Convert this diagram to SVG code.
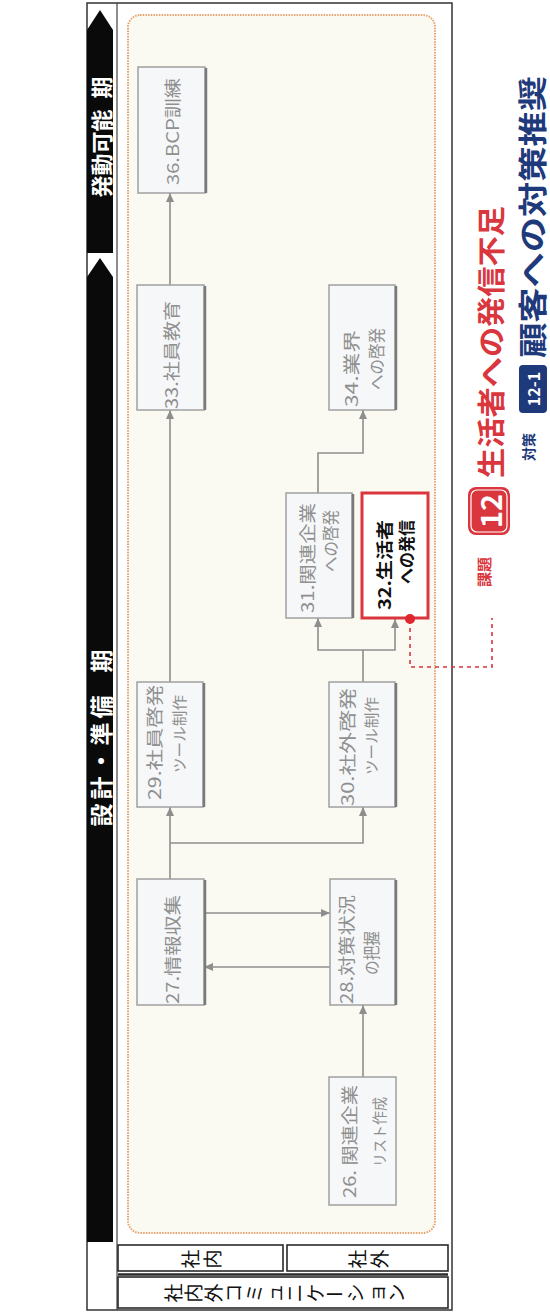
<svg xmlns="http://www.w3.org/2000/svg" width="550" height="1313" viewBox="0 0 550 1313">
<defs>
<marker id="arr" markerWidth="9" markerHeight="8" refX="9" refY="4" orient="auto" markerUnits="userSpaceOnUse"><path d="M0,0 L9,4 L0,8 z" fill="#8e8e8e"/></marker>
<style>
.f{font-family:"Noto Sans CJK JP","Noto Sans",sans-serif}
.box{fill:#f6f7f9;stroke:#a0a0a0;stroke-width:1.5}
.sh{stroke:#7a7a7a;stroke-width:2.5}
.lbl{font-family:"Noto Sans CJK JP","Noto Sans",sans-serif;fill:#8f8f8f;font-size:17px;dominant-baseline:central}
.con{fill:none;stroke:#8e8e8e;stroke-width:1.6}
.hdr{font-family:"Noto Sans CJK JP","Noto Sans",sans-serif;fill:#fff;font-weight:bold;dominant-baseline:central;text-anchor:middle}
.tb{fill:none;stroke:#2a2a2a;stroke-width:1.6}
.g{font-family:"Noto Sans CJK JP","Noto Sans",sans-serif;font-size:19px;fill:#111;text-anchor:middle;dominant-baseline:central}
</style>
</defs>
<rect width="550" height="1313" fill="#fff"/>
<g id="frame">
<rect x="87" y="3" width="365" height="1307" fill="#fff" stroke="#333" stroke-width="1.5"/>
<line x1="117" y1="3" x2="117" y2="1310" stroke="#444" stroke-width="1.2"/>
<rect x="128" y="15" width="307" height="1218" rx="12" fill="#fbfaf2" stroke="#e3a470" stroke-width="2" stroke-dasharray="1.5 1.2"/>
<polygon points="87,30 100,10 113,30 113,253 87,253" fill="#0a0a0a"/>
<polygon points="87,277 100,258 113,277 113,1242 87,1242" fill="#0a0a0a"/>
<text class="hdr" font-size="22" transform="translate(100,137) rotate(-90)">発動可能 <tspan dx="6">期</tspan></text>
<text class="hdr" font-size="23" letter-spacing="4" transform="translate(100,736) rotate(-90)">設計・準備 <tspan dx="10">期</tspan></text>
</g>
<g id="table">
<rect class="tb" x="118" y="1245" width="165" height="26"/>
<rect class="tb" x="287" y="1245" width="161" height="26"/>
<line x1="118" y1="1274.5" x2="448" y2="1274.5" stroke="#2a2a2a" stroke-width="2.5"/>
<rect class="tb" x="118" y="1277" width="330" height="31"/>
<text class="g" transform="translate(189,1259) rotate(-90)">社</text>
<text class="g" transform="translate(211,1259) rotate(-90)">内</text>
<text class="g" transform="translate(356,1259) rotate(-90)">社</text>
<text class="g" transform="translate(378,1259) rotate(-90)">外</text>
<text class="g" transform="translate(172,1293) rotate(-90)">社</text>
<text class="g" transform="translate(192.3,1293) rotate(-90)">内</text>
<text class="g" transform="translate(212.6,1293) rotate(-90)">外</text>
<text class="g" transform="translate(232.9,1293) rotate(-90)">コ</text>
<text class="g" transform="translate(253.2,1293) rotate(-90)">ミ</text>
<text class="g" transform="translate(273.5,1293) rotate(-90)">ュ</text>
<text class="g" transform="translate(293.8,1293) rotate(-90)">ニ</text>
<text class="g" transform="translate(314.1,1293) rotate(-90)">ケ</text>
<text class="g" x="334.4" y="1293">ー</text>
<text class="g" transform="translate(354.7,1293) rotate(-90)">シ</text>
<text class="g" transform="translate(375,1293) rotate(-90)">ョ</text>
<text class="g" transform="translate(395.3,1293) rotate(-90)">ン</text>
</g>
<g id="connectors">
<path class="con" d="M363,1077 V1005" marker-end="url(#arr)"/>
<path class="con" d="M204,913 H330" marker-end="url(#arr)"/>
<path class="con" d="M330,967 H204" marker-end="url(#arr)"/>
<path class="con" d="M170,879 V807" marker-end="url(#arr)"/>
<path class="con" d="M170,843 H363 V807" marker-end="url(#arr)"/>
<path class="con" d="M170,682 V410" marker-end="url(#arr)"/>
<path class="con" d="M363,682 V650 H318 V618" marker-end="url(#arr)"/>
<path class="con" d="M363,650 H395 V619" marker-end="url(#arr)"/>
<path class="con" d="M318,493 V453 H363 V410" marker-end="url(#arr)"/>
<path class="con" d="M170,285 V193" marker-end="url(#arr)"/>
<path d="M410,620 V667 H492 V618" fill="none" stroke="#d9363e" stroke-width="1.6" stroke-dasharray="4 4"/>
</g>
<g id="n36">
<rect class="box" x="138" y="67" width="67" height="126"/><line class="sh" x1="206" y1="68" x2="206" y2="193"/>
<text class="lbl" transform="translate(171,185) rotate(-90)" textLength="107" lengthAdjust="spacingAndGlyphs">36.BCP訓練</text>
</g>
<g id="n33">
<rect class="box" x="137" y="285" width="67" height="125"/><line class="sh" x1="205" y1="286" x2="205" y2="410"/>
<text class="lbl" transform="translate(170,409) rotate(-90)" textLength="108" lengthAdjust="spacingAndGlyphs">33.社員教育</text>
</g>
<g id="n34">
<rect class="box" x="329" y="285" width="66" height="125"/><line class="sh" x1="396" y1="286" x2="396" y2="410"/>
<text class="lbl" transform="translate(350,407) rotate(-90)" textLength="77" lengthAdjust="spacingAndGlyphs">34.業界</text>
<text class="lbl" transform="translate(375,390) rotate(-90)" textLength="62" lengthAdjust="spacingAndGlyphs">への啓発</text>
</g>
<g id="n31">
<rect class="box" x="286" y="493" width="66" height="125"/><line class="sh" x1="353" y1="494" x2="353" y2="618"/>
<text class="lbl" transform="translate(306,613) rotate(-90)" textLength="110" lengthAdjust="spacingAndGlyphs">31.関連企業</text>
<text class="lbl" transform="translate(329,572) rotate(-90)" textLength="62" lengthAdjust="spacingAndGlyphs">への啓発</text>
</g>
<g id="n32">
<rect x="362" y="493" width="66" height="125" fill="#fff" stroke="#d9363e" stroke-width="3"/>
<text class="lbl" style="fill:#111;font-weight:bold" transform="translate(383,610) rotate(-90)" textLength="90" lengthAdjust="spacingAndGlyphs">32.生活者</text>
<text class="lbl" style="fill:#111;font-weight:bold" transform="translate(405,584) rotate(-90)" textLength="64" lengthAdjust="spacingAndGlyphs">への発信</text>
<circle cx="410" cy="619" r="5" fill="#e0262e"/>
</g>
<g id="n29">
<rect class="box" x="137" y="682" width="66" height="125"/><line class="sh" x1="204" y1="683" x2="204" y2="807"/>
<text class="lbl" transform="translate(153,800) rotate(-90)" textLength="115" lengthAdjust="spacingAndGlyphs">29.社員啓発</text>
<text class="lbl" style="font-size:15px" transform="translate(178,773) rotate(-90)" textLength="78" lengthAdjust="spacingAndGlyphs">ツール制作</text>
</g>
<g id="n30">
<rect class="box" x="329" y="682" width="66" height="125"/><line class="sh" x1="396" y1="683" x2="396" y2="807"/>
<text class="lbl" transform="translate(346,806) rotate(-90)" textLength="118" lengthAdjust="spacingAndGlyphs">30.社外啓発</text>
<text class="lbl" style="font-size:15px" transform="translate(370,775) rotate(-90)" textLength="78" lengthAdjust="spacingAndGlyphs">ツール制作</text>
</g>
<g id="n27">
<rect class="box" x="137" y="879" width="67" height="126"/><line class="sh" x1="205" y1="880" x2="205" y2="1005"/>
<text class="lbl" transform="translate(171,1004) rotate(-90)" textLength="109" lengthAdjust="spacingAndGlyphs">27.情報収集</text>
</g>
<g id="n28">
<rect class="box" x="330" y="879" width="65" height="126"/><line class="sh" x1="396" y1="880" x2="396" y2="1005"/>
<text class="lbl" transform="translate(345,1004) rotate(-90)" textLength="109" lengthAdjust="spacingAndGlyphs">28.対策状況</text>
<text class="lbl" transform="translate(370,975) rotate(-90)" textLength="44" lengthAdjust="spacingAndGlyphs">の把握</text>
</g>
<g id="n26">
<rect class="box" x="329" y="1077" width="67" height="128"/>
<text class="lbl" transform="translate(348,1198) rotate(-90)" textLength="113" lengthAdjust="spacingAndGlyphs">26. 関連企業</text>
<text class="lbl" style="font-size:15px" transform="translate(378,1167) rotate(-90)" textLength="70" lengthAdjust="spacingAndGlyphs">リスト作成</text>
</g>
<g id="issue">
<text class="f" transform="translate(483,572) rotate(-90)" text-anchor="middle" dominant-baseline="central" font-size="15" font-weight="bold" fill="#d9363e">課題</text>
<rect x="468" y="487" width="42" height="48" rx="8" fill="#d9363e"/>
<rect x="471" y="490" width="36" height="42" rx="6" fill="none" stroke="#fff" stroke-width="1.2"/>
<text class="f" transform="translate(489,511) rotate(-90)" text-anchor="middle" dominant-baseline="central" font-size="29" font-weight="bold" fill="#fff">12</text>
<text class="f" transform="translate(490,478) rotate(-90)" dominant-baseline="central" font-size="28" font-weight="bold" fill="#d9363e" textLength="272" lengthAdjust="spacingAndGlyphs">生活者への発信不足</text>
</g>
<g id="measure">
<text class="f" transform="translate(528,447) rotate(-90)" text-anchor="middle" dominant-baseline="central" font-size="14" font-weight="bold" fill="#1e3a7b">対策</text>
<rect x="519" y="365" width="28" height="48" rx="4" fill="#1e3a7b"/>
<text class="f" transform="translate(533,389) rotate(-90)" text-anchor="middle" dominant-baseline="central" font-size="16" font-weight="bold" fill="#fff">12-1</text>
<text class="f" transform="translate(531,358) rotate(-90)" dominant-baseline="central" font-size="29" font-weight="bold" fill="#1e3a7b" textLength="282" lengthAdjust="spacingAndGlyphs">顧客への対策推奨</text>
</g>
</svg>
